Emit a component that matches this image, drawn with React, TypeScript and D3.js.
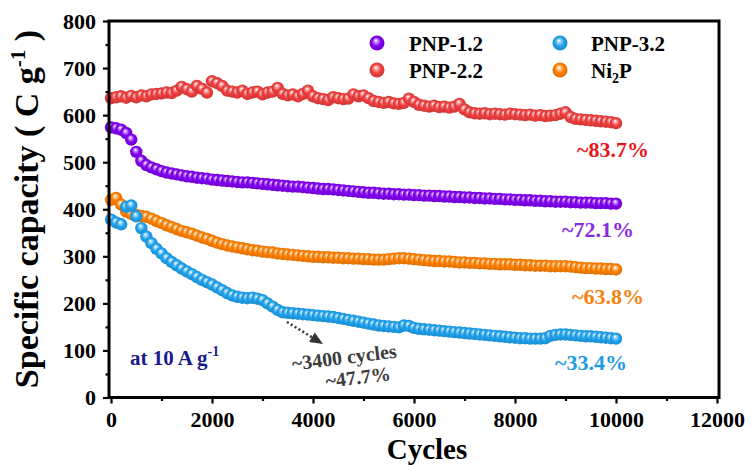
import React, { useEffect, useRef } from "react";
import * as d3 from "d3";

// Cycle numbers at which capacity was recorded (every 100 cycles)
const cycles = d3.range(0, 10001, 100);

// Specific capacity (C g^-1) per sample
const pnp12 = [
  574, 572, 569, 562, 548, 522, 503, 494, 489, 485,
  481, 478, 476, 474, 472, 470, 469, 467, 466, 465,
  463, 462, 461, 460, 459, 458, 457, 457, 456, 455,
  454, 453, 452, 451, 450, 449, 448, 448, 447, 446,
  445, 444, 443, 443, 442, 441, 440, 439, 438, 437,
  436, 435, 435, 434, 433, 433, 432, 432, 431, 431,
  430, 430, 429, 429, 428, 428, 427, 427, 426, 426,
  425, 425, 424, 424, 423, 423, 422, 422, 421, 421,
  420, 420, 419, 419, 418, 418, 417, 417, 416, 416,
  416, 415, 415, 414, 414, 414, 413, 413, 413, 412,
  412,
];

const pnp22 = [
  636, 638, 640, 637, 641, 638, 642, 640, 644, 645,
  646, 648, 647, 652, 660, 655, 650, 662, 656, 648,
  672, 668, 662, 652, 650, 648, 652, 645, 648, 650,
  644, 648, 650, 658, 645, 642, 644, 640, 645, 652,
  640, 636, 634, 632, 638, 636, 634, 635, 644, 640,
  642, 636, 630, 628, 626, 628, 625, 624, 626, 635,
  628, 622, 620, 618, 620, 617, 618, 616, 618, 624,
  612, 606, 604, 603, 604, 602, 603, 602, 601, 603,
  602, 601, 600, 601, 599, 600, 598, 599, 600, 603,
  606, 596, 592, 591, 590, 589, 588, 587, 586, 585,
  583,
];

const pnp32 = [
  378, 372, 368, 405, 408, 385, 360, 342, 328, 316,
  306, 296, 288, 281, 274, 268, 262, 256, 250, 245,
  240, 234, 228, 222, 217, 214, 212, 211, 212, 210,
  207, 200, 193, 186, 181, 180, 179, 178, 177, 176,
  175, 174, 173, 172, 171, 169, 167, 165, 163, 161,
  159, 157, 155, 153, 152, 151, 150, 149, 153, 152,
  148, 146, 145, 144, 143, 142, 141, 140, 139, 138,
  137, 136, 135, 134, 133, 132, 131, 130, 129, 128,
  127, 126, 126, 125, 125, 125, 126, 131, 133, 134,
  134, 133, 132, 131, 130, 130, 129, 128, 127, 126,
  125,
];

const ni2p = [
  420, 424, 410, 395, 390, 388, 386, 384, 380, 375,
  371, 366, 362, 358, 354, 351, 348, 344, 340, 337,
  333, 329, 326, 323, 321, 319, 317, 315, 313, 312,
  310, 309, 308, 306, 305, 304, 303, 302, 301, 300,
  299, 299, 298, 298, 297, 297, 296, 296, 295, 295,
  294, 294, 293, 293, 293, 294, 295, 296, 296, 295,
  294, 293, 292, 291, 290, 290, 289, 289, 288, 287,
  287, 286, 286, 285, 285, 284, 284, 283, 283, 283,
  282, 282, 281, 281, 280, 280, 280, 279, 279, 279,
  279, 278, 277, 276, 275, 275, 274, 274, 273, 273,
  272,
];

const xTicks = [0, 2000, 4000, 6000, 8000, 10000, 12000];
const xMinorTicks = [1000, 3000, 5000, 7000, 9000, 11000];
const yTicks = [0, 100, 200, 300, 400, 500, 600, 700, 800];
const yMinorTicks = [50, 150, 250, 350, 450, 550, 650, 750];

const retention = ["~72.1%", "~83.7%", "~33.4%", "~63.8%"];

const W = 751;
const H = 466;
const FONT = "'Liberation Serif', 'Times New Roman', serif";

export default function App() {
  const ref = useRef<SVGSVGElement | null>(null);

  useEffect(() => {
    const svg = d3.select(ref.current);
    svg.selectAll("*").remove();

    const left = 109;
    const right = 719;
    const top = 21;
    const bottom = 397.5;

    const x = d3.scaleLinear().domain([-40, 12040]).range([left, right]);
    const y = d3.scaleLinear().domain([0, 800]).range([bottom, top]);

    const series = [
      { key: "p22", name: "PNP-2.2", values: pnp22, color: "#f03e3e", text: "#e8161c", label: retention[1] },
      { key: "p12", name: "PNP-1.2", values: pnp12, color: "#8000f0", text: "#8a2be2", label: retention[0] },
      { key: "ni", name: "Ni2P", values: ni2p, color: "#ff8000", text: "#f5820f", label: retention[3] },
      { key: "p32", name: "PNP-3.2", values: pnp32, color: "#1ea2ee", text: "#1e9be6", label: retention[2] },
    ];

    // Shaded sphere gradients
    const defs = svg.append("defs");
    series.forEach((s) => {
      const c = d3.color(s.color)!;
      const g = defs
        .append("radialGradient")
        .attr("id", "ball-" + s.key)
        .attr("cx", "50%")
        .attr("cy", "50%")
        .attr("r", "55%")
        .attr("fx", "42%")
        .attr("fy", "32%");
      g.append("stop").attr("offset", "0%").attr("stop-color", "#ffffff");
      g.append("stop").attr("offset", "22%").attr("stop-color", d3.interpolateRgb(s.color, "#ffffff")(0.55));
      g.append("stop").attr("offset", "55%").attr("stop-color", s.color);
      g.append("stop").attr("offset", "100%").attr("stop-color", c.darker(0.5).formatHex());
    });

    svg
      .append("rect")
      .attr("width", W)
      .attr("height", H)
      .attr("fill", "#ffffff");

    // Data markers
    const dataG = svg.append("g");
    series.forEach((s) => {
      dataG
        .append("g")
        .selectAll("circle")
        .data(s.values)
        .join("circle")
        .attr("cx", (_d, i) => x(cycles[i]))
        .attr("cy", (d) => y(d))
        .attr("r", 6.2)
        .attr("fill", `url(#ball-${s.key})`);
    });

    // Axes
    const xAxis = svg.append("g").attr("transform", `translate(0,${bottom})`);
    xAxis.call(d3.axisBottom(x).tickValues(xTicks).tickSize(6).tickPadding(8).tickFormat(d3.format("d")));
    const xMinor = svg.append("g").attr("transform", `translate(0,${bottom})`);
    xMinor.call(d3.axisBottom(x).tickValues(xMinorTicks).tickSize(3.5).tickFormat(() => ""));

    const yAxis = svg.append("g").attr("transform", `translate(${left},0)`);
    yAxis.call(d3.axisLeft(y).tickValues(yTicks).tickSize(6).tickPadding(7).tickFormat(d3.format("d")));
    const yMinor = svg.append("g").attr("transform", `translate(${left},0)`);
    yMinor.call(d3.axisLeft(y).tickValues(yMinorTicks).tickSize(3.5).tickFormat(() => ""));

    [xAxis, xMinor, yAxis, yMinor].forEach((a) => {
      a.select(".domain").remove();
      a.selectAll("line").attr("stroke", "#000").attr("stroke-width", 2.2);
      a.selectAll("text")
        .attr("font-family", FONT)
        .attr("font-weight", "bold")
        .attr("font-size", 22)
        .attr("fill", "#000");
    });

    // Frame
    svg
      .append("rect")
      .attr("x", left)
      .attr("y", top)
      .attr("width", right - left)
      .attr("height", bottom - top)
      .attr("fill", "none")
      .attr("stroke", "#000")
      .attr("stroke-width", 3);

    // Axis titles
    svg
      .append("text")
      .attr("x", 427)
      .attr("y", 458.5)
      .attr("text-anchor", "middle")
      .attr("font-family", FONT)
      .attr("font-weight", "bold")
      .attr("font-size", 29)
      .text("Cycles");

    const yt = svg
      .append("text")
      .attr("transform", "translate(38,209) rotate(-90)")
      .attr("text-anchor", "middle")
      .attr("font-family", FONT)
      .attr("font-weight", "bold")
      .attr("font-size", 34);
    yt.append("tspan").text("Specific capacity ( C g");
    yt.append("tspan").attr("font-size", 21).attr("dy", -13).text("-1");
    yt.append("tspan").attr("dy", 13).text(" )");

    // Legend
    const legend = [
      { s: series[1], cx: 377, cy: 43, tx: 409 },
      { s: series[0], cx: 377, cy: 70, tx: 409 },
      { s: series[3], cx: 560, cy: 43, tx: 591 },
      { s: series[2], cx: 560, cy: 70, tx: 591 },
    ];
    legend.forEach((l) => {
      svg
        .append("circle")
        .attr("cx", l.cx)
        .attr("cy", l.cy)
        .attr("r", 7.5)
        .attr("fill", `url(#ball-${l.s.key})`);
      const t = svg
        .append("text")
        .attr("x", l.tx)
        .attr("y", l.cy + 8)
        .attr("font-family", FONT)
        .attr("font-weight", "bold")
        .attr("font-size", 21)
        .attr("fill", "#000");
      if (l.s.name === "Ni2P") {
        t.append("tspan").text("Ni");
        t.append("tspan").attr("font-size", 14).attr("dy", 5).text("2");
        t.append("tspan").attr("dy", -5).text("P");
      } else {
        t.text(l.s.name);
      }
    });

    // Retention labels
    const labelPos: Record<string, [number, number]> = {
      p22: [577, 157],
      p12: [562, 237],
      ni: [572, 304],
      p32: [555, 370],
    };
    series.forEach((s) => {
      const [lx, ly] = labelPos[s.key];
      svg
        .append("text")
        .attr("x", lx)
        .attr("y", ly)
        .attr("font-family", FONT)
        .attr("font-weight", "bold")
        .attr("font-size", 22)
        .attr("fill", s.text)
        .text(s.label);
    });

    // Current density note
    const cd = svg
      .append("text")
      .attr("x", 130)
      .attr("y", 365)
      .attr("font-family", FONT)
      .attr("font-weight", "bold")
      .attr("font-size", 21)
      .attr("fill", "#1a1a8e");
    cd.append("tspan").text("at 10 A g");
    cd.append("tspan").attr("font-size", 14).attr("dy", -9).text("-1");

    // Arrow pointing to the 3400-cycle mark
    const ax0 = 287, ay0 = 322, ax1 = 323, ay1 = 344;
    const ang = Math.atan2(ay1 - ay0, ax1 - ax0);
    const headLen = 13;
    const bx = ax1 - headLen * Math.cos(ang);
    const by = ay1 - headLen * Math.sin(ang);
    svg
      .append("line")
      .attr("x1", ax0)
      .attr("y1", ay0)
      .attr("x2", bx)
      .attr("y2", by)
      .attr("stroke", "#333")
      .attr("stroke-width", 2.5)
      .attr("stroke-dasharray", "2,2.5");
    const px = -Math.sin(ang), py = Math.cos(ang);
    svg
      .append("path")
      .attr(
        "d",
        `M${ax1},${ay1}L${bx + 5.5 * px},${by + 5.5 * py}L${bx - 5.5 * px},${by - 5.5 * py}Z`
      )
      .attr("fill", "#333");

    const note = svg
      .append("g")
      .attr("font-family", FONT)
      .attr("font-weight", "bold")
      .attr("font-size", 20)
      .attr("fill", "#3c3c3c")
      .attr("text-anchor", "middle");
    note
      .append("text")
      .attr("transform", "translate(345,364) rotate(-7)")
      .text("~3400 cycles");
    note
      .append("text")
      .attr("transform", "translate(359,384) rotate(-7)")
      .text("~47.7%");
  }, []);

  return (
    <svg
      ref={ref}
      width={W}
      height={H}
      style={{ position: "absolute", left: 0, top: 0, display: "block" }}
    />
  );
}
